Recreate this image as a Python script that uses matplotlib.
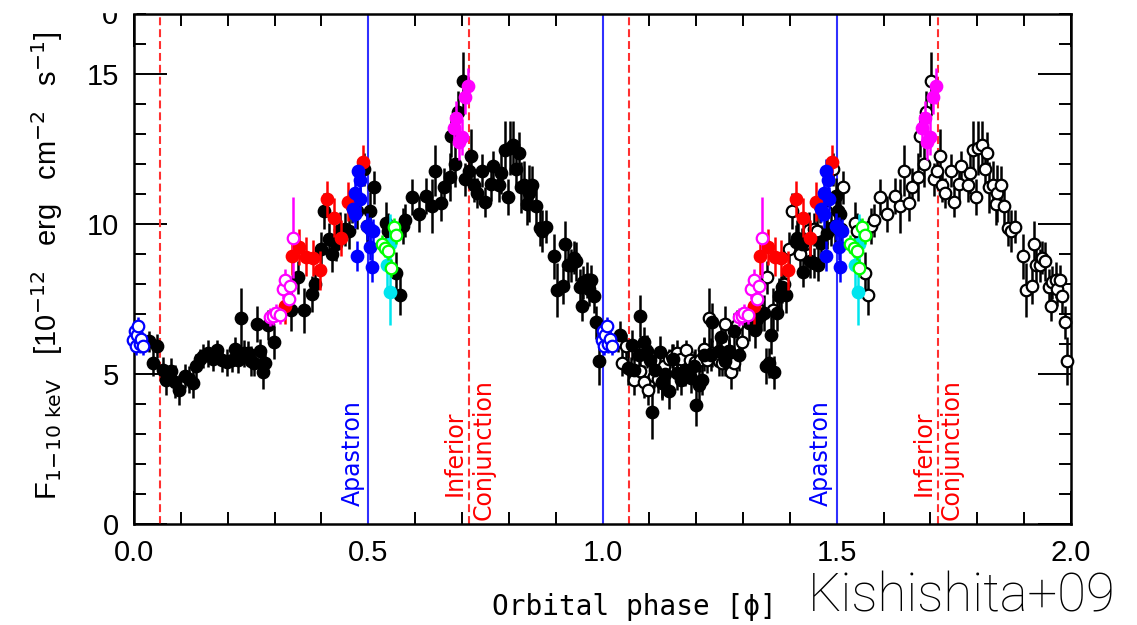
import matplotlib
matplotlib.use('Agg')
import matplotlib.pyplot as plt
from matplotlib.patches import Rectangle
import numpy as np

# dataset 1: black, filled in cycle 1, open in cycle 2
blk1_phase = [0.033, 0.041, 0.050, 0.061, 0.068, 0.080, 0.088, 0.097, 0.109, 0.118,
              0.127, 0.132, 0.141, 0.148, 0.159, 0.168, 0.178, 0.187, 0.198, 0.209,
              0.216, 0.223, 0.228, 0.234, 0.244, 0.249, 0.256, 0.262, 0.269, 0.275,
              0.280, 0.287, 0.298, 0.335, 0.351, 0.363, 0.380, 0.387, 0.399, 0.405,
              0.417, 0.422, 0.432, 0.440, 0.451, 0.458, 0.465, 0.476, 0.491, 0.497,
              0.503, 0.513, 0.538, 0.543, 0.560, 0.567, 0.574, 0.579, 0.593, 0.608,
              0.624, 0.636, 0.643, 0.655, 0.661, 0.674, 0.677, 0.686, 0.691, 0.702,
              0.707, 0.714, 0.720, 0.725, 0.732, 0.743, 0.750, 0.761, 0.766, 0.780,
              0.784, 0.791, 0.798, 0.802, 0.809, 0.816, 0.821, 0.826, 0.833, 0.839,
              0.843, 0.850, 0.857, 0.866, 0.871, 0.880, 0.897, 0.903, 0.916, 0.921,
              0.926, 0.933, 0.939, 0.944, 0.952, 0.957, 0.959, 0.967, 0.971, 0.976,
              0.981, 0.987, 0.992]
blk1_flux = [6.09, 5.37, 5.92, 5.12, 4.81, 5.09, 4.75, 4.48, 4.92, 4.83,
             4.70, 5.26, 5.50, 5.59, 5.70, 5.50, 5.79, 5.48, 5.39, 5.48,
             5.84, 5.48, 6.87, 5.70, 5.70, 5.42, 5.37, 6.68, 5.76, 5.06,
             5.37, 6.62, 6.06, 7.13, 8.23, 7.13, 7.68, 7.99, 9.18, 10.43,
             9.49, 8.99, 9.32, 9.80, 9.82, 9.77, 10.60, 10.43, 11.83, 9.93,
             10.43, 11.22, 10.05, 9.77, 8.38, 7.62, 9.93, 10.13, 10.90, 10.32,
             10.94, 10.60, 11.77, 10.69, 11.22, 11.58, 12.95, 11.99, 13.72, 14.78,
             11.49, 11.77, 12.27, 11.29, 11.05, 11.77, 10.74, 11.33, 11.92, 11.29,
             11.69, 12.47, 10.91, 12.52, 12.63, 11.85, 12.38, 11.22, 11.29, 10.66,
             11.03, 11.29, 10.60, 9.88, 9.77, 9.91, 8.93, 7.80, 7.95, 9.35,
             8.65, 8.62, 8.88, 8.76, 7.91, 7.28, 8.06, 8.13, 7.82, 8.13,
             7.59, 6.73, 5.42]
blk1_err = [0.35, 0.45, 0.40, 0.45, 0.50, 0.45, 0.55, 0.50, 0.40, 0.45,
            0.50, 0.40, 0.35, 0.40, 0.45, 0.40, 0.35, 0.40, 0.45, 0.40,
            0.40, 0.45, 1.00, 0.45, 0.40, 0.50, 0.45, 0.60, 0.40, 0.55,
            0.45, 0.50, 0.55, 0.70, 0.55, 0.75, 0.60, 0.50, 0.55, 0.60,
            0.55, 0.60, 0.55, 0.60, 0.55, 0.60, 0.55, 0.60, 0.55, 0.60,
            0.65, 0.55, 0.70, 0.60, 0.70, 0.65, 0.60, 0.55, 0.60, 0.60,
            0.60, 0.90, 0.85, 0.60, 0.65, 0.80, 0.70, 0.75, 0.70, 0.95,
            0.55, 0.55, 0.90, 0.55, 0.50, 0.55, 0.50, 0.55, 0.50, 0.55,
            0.70, 0.95, 0.60, 0.90, 0.80, 0.65, 0.70, 0.85, 0.80, 0.70,
            0.95, 0.65, 0.60, 0.60, 0.70, 0.55, 0.75, 0.90, 0.60, 0.75,
            0.65, 0.55, 0.55, 0.65, 0.60, 0.50, 0.55, 0.60, 0.55, 0.50,
            0.55, 0.55, 0.80]

# dataset 2: black filled, only shown in cycle 2 (phase + 1)
blk2_phase = [0.038, 0.054, 0.063, 0.067, 0.078, 0.081, 0.088, 0.095, 0.101, 0.106,
              0.113, 0.122, 0.127, 0.134, 0.142, 0.151, 0.158, 0.167, 0.177, 0.188,
              0.196, 0.199, 0.206, 0.213, 0.216, 0.231, 0.234, 0.249, 0.253, 0.261,
              0.271, 0.280, 0.291, 0.312, 0.325, 0.330, 0.338, 0.344, 0.348, 0.355,
              0.360, 0.366, 0.373, 0.377, 0.384, 0.391, 0.412, 0.416, 0.426, 0.428,
              0.443, 0.452, 0.459, 0.467, 0.479, 0.487, 0.498, 0.502, 0.506, 0.509]
blk2_flux = [6.31, 5.20, 5.98, 5.12, 5.65, 6.93, 6.06, 5.76, 5.48, 3.75,
             5.15, 5.72, 4.72, 5.01, 4.45, 5.50, 5.03, 4.81, 5.15, 4.87,
             5.26, 3.98, 4.64, 4.81, 5.65, 5.65, 6.73, 5.76, 6.24, 5.42,
             5.76, 6.43, 5.65, 6.71, 6.46, 6.82, 6.98, 7.04, 5.26, 5.37,
             6.31, 5.06, 7.02, 7.59, 7.91, 7.65, 9.40, 9.54, 9.32, 8.40,
             8.76, 8.71, 8.65, 9.38, 9.71, 9.88, 10.94, 10.43, 10.32, 9.82]
blk2_err = [0.45, 0.55, 0.50, 0.45, 0.50, 0.70, 0.50, 0.55, 0.50, 0.90,
            0.55, 0.55, 0.60, 0.55, 0.60, 0.50, 0.55, 0.50, 0.55, 0.50,
            0.50, 0.70, 0.55, 0.50, 0.55, 0.55, 0.65, 0.55, 0.60, 0.50,
            0.55, 0.60, 0.55, 0.60, 0.60, 0.55, 0.55, 0.60, 0.60, 0.50,
            0.65, 0.55, 0.60, 0.60, 0.55, 0.60, 0.55, 0.60, 0.55, 0.50,
            0.55, 0.50, 0.55, 0.60, 0.55, 0.60, 0.60, 0.55, 0.60, 0.55]

# coloured datasets, shown in both cycles
red_phase = [0.323, 0.337, 0.353, 0.368, 0.382, 0.396, 0.412, 0.427, 0.442, 0.456, 0.489]
red_flux = [7.28, 8.95, 9.23, 8.91, 8.88, 8.46, 10.83, 10.21, 9.54, 10.74, 12.07]
red_err = [0.60, 0.65, 0.60, 0.65, 0.60, 0.65, 0.60, 0.65, 0.60, 0.65, 0.55]

mag_open_phase = [0.291, 0.297, 0.303, 0.311, 0.318, 0.323, 0.330, 0.333, 0.340]
mag_open_flux = [6.90, 6.95, 7.04, 6.98, 7.84, 8.15, 7.51, 7.93, 9.54]
mag_open_err = [0.30, 0.30, 0.30, 0.30, 0.35, 0.35, 0.30, 0.35, 1.35]

blue_phase = [0.467, 0.472, 0.472, 0.476, 0.478, 0.482, 0.483, 0.498, 0.504, 0.504, 0.508, 0.511]
blue_flux = [10.51, 11.05, 10.32, 8.95, 11.77, 11.47, 10.83, 9.93, 9.85, 9.24, 8.58, 9.77]
blue_err = [0.45, 0.40, 0.45, 0.50, 0.40, 0.45, 0.40, 0.45, 0.40, 0.45, 0.50, 0.40]

cyan_phase = [0.540, 0.546, 0.547]
cyan_flux = [8.62, 7.73, 9.32]
cyan_err = [0.90, 1.10, 1.00]

green_phase = [0.529, 0.536, 0.543, 0.548, 0.554, 0.560]
green_flux = [9.32, 9.21, 9.10, 8.54, 9.91, 9.62]
green_err = [0.30, 0.30, 0.30, 0.30, 0.30, 0.30]

mag_phase = [0.682, 0.688, 0.693, 0.700, 0.706, 0.712]
mag_flux = [13.19, 13.55, 12.74, 12.89, 14.22, 14.59]
mag_err = [0.55, 0.55, 0.60, 0.60, 0.55, 0.60]

bopen_phase = [-0.002, 0.002, 0.004, 0.006, 0.009, 0.012, 0.016, 0.020]
bopen_flux = [6.15, 6.43, 5.92, 6.30, 6.59, 6.00, 6.17, 5.92]
bopen_err = [0.30, 0.30, 0.30, 0.30, 0.30, 0.30, 0.30, 0.30]

apastron = [0.5, 1.0, 1.5]
inf_conj = [0.056, 0.716, 1.056, 1.716]

fig = plt.figure(figsize=(11.37, 6.25), dpi=100)
ax = fig.add_axes([134 / 1137, 101 / 625, 937 / 1137, 510 / 625])

MS = 8.3
EW = 1.8


def draw(ph, fl, er, color, filled, shift=0.0, z=3):
    ph = np.asarray(ph) + shift
    ax.errorbar(ph, fl, yerr=er, fmt='o', ms=MS, color=color, ecolor=color,
                elinewidth=EW, capsize=0,
                mfc=color if filled else 'white', mec=color, mew=1.6,
                zorder=z, clip_on=False)


# black data
draw(blk1_phase, blk1_flux, blk1_err, 'black', True, 0.0)
draw(blk1_phase, blk1_flux, blk1_err, 'black', False, 1.0)
draw(blk2_phase, blk2_flux, blk2_err, 'black', True, 1.0)

# coloured data, both cycles
for s in [0.0, 1.0]:
    draw(red_phase, red_flux, red_err, '#ff0000', True, s, 4)
    draw(mag_open_phase, mag_open_flux, mag_open_err, '#ff00ff', False, s, 4)
    draw(blue_phase, blue_flux, blue_err, '#0000ff', True, s, 4)
    draw(cyan_phase, cyan_flux, cyan_err, '#00e5ee', True, s, 4)
    draw(green_phase, green_flux, green_err, '#00ff00', False, s, 5)
    draw(mag_phase, mag_flux, mag_err, '#ff00ff', True, s, 5)
    draw(bopen_phase, bopen_flux, bopen_err, '#0000ff', False, s, 5)

for x in apastron:
    ax.axvline(x, color='#3030ff', lw=1.5, zorder=2)
for x in inf_conj:
    ax.axvline(x, color='#ff3030', lw=1.5, ls=(0, (3.8, 1.9)), zorder=2)

tfont = dict(family='DejaVu Sans', fontsize=17)
for x in [0.5, 1.5]:
    ax.text(x - 0.008, 0.6, 'Apastron', color='#0000ff', rotation=90,
            ha='right', va='bottom', **tfont)
for x in [0.716, 1.716]:
    ax.text(x - 0.006, 0.95, 'Inferior', color='#ff0000', rotation=90,
            ha='right', va='bottom', **tfont)
    ax.text(x + 0.004, 0.15, 'Conjunction', color='#ff0000', rotation=90,
            ha='left', va='bottom', **tfont)

ax.set_xlim(0, 2.0)
ax.set_ylim(0, 17)
ax.set_xticks([0, 0.5, 1.0, 1.5, 2.0])
ax.set_xticklabels(['0.0', '0.5', '1.0', '1.5', '2.0'])
ax.set_xticks(np.arange(0, 2.01, 0.1), minor=True)
ax.set_yticks([0, 5, 10, 15])
ax.set_yticks(np.arange(0, 17.01, 1), minor=True)

ax.tick_params(which='both', direction='in', top=True, right=True, width=1.4, color='black')
ax.tick_params(which='major', length=24, pad=11, labelsize=21)
ax.tick_params(which='minor', length=8.5)
for lab in ax.get_xticklabels() + ax.get_yticklabels():
    lab.set_family('Liberation Sans')
for sp in ax.spines.values():
    sp.set_linewidth(1.8)

fig.text(47 / 1137, 0.575,
         r'F$_{\rm 1\!-\!10\ keV}$   [10$^{-12}$   erg   cm$^{-2}$   s$^{-1}$]',
         rotation=90, ha='center', va='center', fontsize=21, family='Liberation Sans')
fig.text(492 / 1137, 1 - 607 / 625, 'Orbital phase [\u03d5]', ha='left', va='center',
         fontsize=20, family=['DejaVu Sans Mono', 'DejaVu Sans'])
fig.text(808 / 1137, 2 / 625, 'Kishishita+09', ha='left', va='bottom',
         fontsize=38, family='Roboto', fontweight='light')

# clipped tick label remnant at the top left
fig.text(110 / 1137, 1 - 16 / 625, '0', ha='center', va='center', fontsize=21,
         family='Liberation Sans')
fig.patches.append(Rectangle((0.07, 1 - 12 / 625), 0.05, 12 / 625,
                             transform=fig.transFigure, color='white', zorder=10))

fig.savefig('out.png', dpi=100)
